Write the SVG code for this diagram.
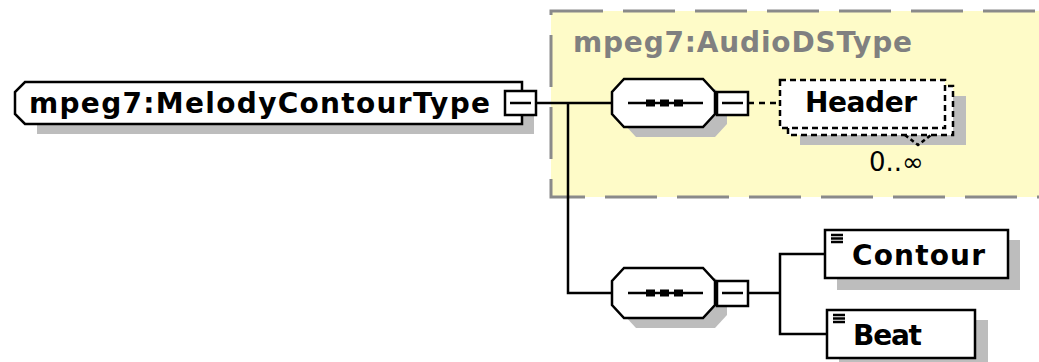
<svg xmlns="http://www.w3.org/2000/svg" width="1039" height="362" viewBox="0 0 1039 362">
<style>
.sh{fill:#bdbdbd;stroke:none}
.bx{fill:#ffffff;stroke:#000;stroke-width:2.5}
.dbx{fill:#ffffff;stroke:#000;stroke-width:2.5;stroke-dasharray:6 4}
.ln{fill:none;stroke:#000;stroke-width:2.5}
.dln{fill:none;stroke:#000;stroke-width:2.5;stroke-dasharray:6 5}
.t{font-family:"DejaVu Sans","Verdana",sans-serif;font-weight:bold;font-size:28px;fill:#000}
.tg{font-family:"DejaVu Sans","Verdana",sans-serif;font-weight:bold;font-size:28px;fill:#808080}
.occ{font-family:"DejaVu Sans",sans-serif;font-size:26px;fill:#000}
</style>
<rect width="1039" height="362" fill="#ffffff"/>
<g id="audioDSType">
<rect x="551" y="11" width="500" height="186" fill="#fefbc8" stroke="#8a8a8a" stroke-width="3" stroke-dasharray="52 20"/>
<text class="tg" x="573" y="52" textLength="339">mpeg7:AudioDSType</text>
</g>
<g id="connectors">
<path class="ln" d="M536,103 H612"/>
<path class="ln" d="M568,103 V293 H612"/>
<path class="dln" d="M748,103 H780"/>
<path class="ln" d="M748,293 H780"/>
<path class="ln" d="M825,254 H780 V334 H827"/>
</g>
<g id="melodyContourType">
<path class="sh" d="M37,92 H534 V134 H37 Z"/>
<path class="bx" d="M25,82 H522 V124 H25 L15,114 V92 Z"/>
<text class="t" x="29" y="113" textLength="461">mpeg7:MelodyContourType</text>
<rect class="bx" x="505" y="91" width="31" height="24"/>
<path class="ln" d="M510,103 H531"/>
</g>
<g id="sequence1">
<path class="sh" d="M636,89 H715 L727,102 V124 L715,137 H636 L624,124 V102 Z"/>
<path class="bx" d="M624,79 H703 L715,92 V114 L703,127 H624 L612,114 V92 Z"/>
<path class="ln" d="M628,103 H703"/>
<rect x="646" y="99.5" width="9" height="7"/>
<rect x="660" y="99.5" width="9" height="7"/>
<rect x="674" y="99.5" width="9" height="7"/>
<rect class="bx" x="717" y="92" width="31" height="23"/>
<path class="ln" d="M722,103 H743"/>
</g>
<g id="header">
<rect class="sh" x="800" y="96" width="166" height="49"/>
<rect class="dbx" x="788" y="86" width="165" height="49"/>
<rect class="dbx" x="780" y="80" width="165" height="48"/>
<path class="ln" d="M905,135 L918,145 L931,135" stroke-width="2" stroke-dasharray="4 3"/>
<text class="occ" x="869" y="171">0..∞</text>
<text class="t" x="805" y="112" textLength="112">Header</text>
</g>
<g id="sequence2">
<path class="sh" d="M636,278 H715 L727,291 V315 L715,328 H636 L624,315 V291 Z"/>
<path class="bx" d="M624,268 H703 L715,281 V305 L703,318 H624 L612,305 V281 Z"/>
<path class="ln" d="M628,293 H703"/>
<rect x="646" y="289.5" width="9" height="7"/>
<rect x="660" y="289.5" width="9" height="7"/>
<rect x="674" y="289.5" width="9" height="7"/>
<rect class="bx" x="717" y="281" width="31" height="25"/>
<path class="ln" d="M722,293 H743"/>
</g>
<g id="contour">
<rect class="sh" x="837" y="240" width="183" height="50"/>
<rect class="bx" x="825" y="230" width="183" height="48"/>
<path class="ln" d="M831,235 H843 M831,238.5 H843 M831,242 H843" stroke-width="1.8"/>
<text class="t" x="852" y="265" textLength="133">Contour</text>
</g>
<g id="beat">
<rect class="sh" x="839" y="320" width="149" height="50"/>
<rect class="bx" x="827" y="310" width="148" height="48"/>
<path class="ln" d="M833,315 H845 M833,318.5 H845 M833,322 H845" stroke-width="1.8"/>
<text class="t" x="853" y="345" textLength="69">Beat</text>
</g>
</svg>
